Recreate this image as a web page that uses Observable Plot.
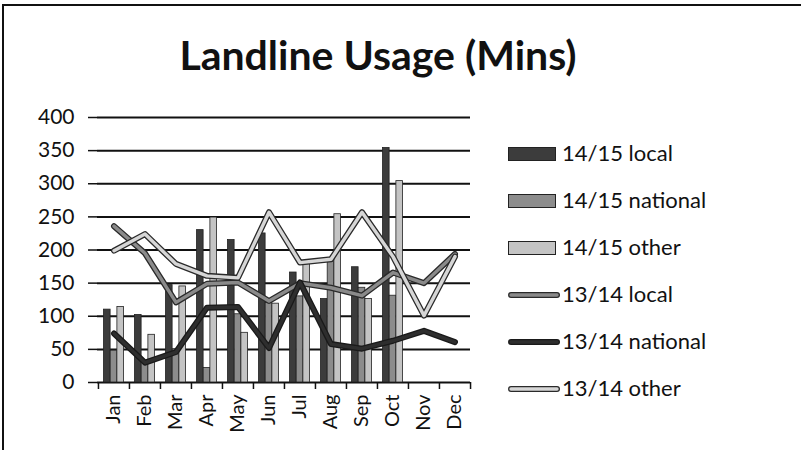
<!DOCTYPE html>
<html>
<head>
<meta charset="utf-8">
<script src="https://cdn.jsdelivr.net/npm/d3@7"></script>
<script src="https://cdn.jsdelivr.net/npm/@observablehq/plot@0.6"></script>
<style>
  html, body { margin: 0; padding: 0; background: #fff; }
  #page { position: relative; width: 801px; height: 450px; overflow: hidden; font-family: Lato, "Open Sans", sans-serif; }
  #border { position: absolute; left: 2px; top: 4px; width: 810px; height: 460px; border-left: 2px solid #111; border-top: 2px solid #111; }
  #title { position: absolute; left: 0; width: 756px; top: 30px; text-align: center; font-weight: bold; font-size: 41px; color: #111; }
  #chart { position: absolute; left: 0; top: 100px; }
  #legend { position: absolute; left: 508px; top: 139px; font-size: 22px; color: #111; }
  .row { height: 47px; display: flex; align-items: flex-start; }
  .row svg { margin-right: 6px; margin-top: 8px; }
</style>
</head>
<body>
<div id="page">
  <div id="border"></div>
  <div id="title">Landline Usage (Mins)</div>
  <div id="chart"></div>
  <div id="legend"></div>
</div>
<script>
const months = ["Jan","Feb","Mar","Apr","May","Jun","Jul","Aug","Sep","Oct","Nov","Dec"];
const yTicks = [0, 50, 100, 150, 200, 250, 300, 350, 400];

// 14/15 bars
const local1415    = [110, 102, 147, 230, 215, 225, 166, 126, 174, 354, null, null];
const national1415 = [ 48,  30,  50,  22, 103, 120, 130, 188, 143, 131, null, null];
const other1415    = [114,  72, 145, 249,  75, 119, 183, 254, 126, 304, null, null];

// 13/14 lines
const local1314    = [236, 195, 121, 149, 151, 123, 150, 143, 131, 166, 150, 194];
const national1314 = [ 74,  30,  46, 113, 114,  52, 151,  58,  51,  63,  78,  61];
const other1314    = [199, 224, 179, 161, 158, 257, 181, 186, 257, 190, 101, 190];

const barSeries = [
  {name: "14/15 local",    values: local1415,    fill: "#3c3c3c"},
  {name: "14/15 national", values: national1415, fill: "#8c8c8c"},
  {name: "14/15 other",    values: other1415,    fill: "#c4c4c4"}
];
const lineSeries = [
  {name: "13/14 local",    values: local1314,    stroke: "#8a8a8a", outline: "#2a2a2a"},
  {name: "13/14 national", values: national1314, stroke: "#2e2e2e", outline: "#1a1a1a"},
  {name: "13/14 other",    values: other1314,    stroke: "#d6d6d6", outline: "#2a2a2a"}
];

const width = 490, marginLeft = 97, marginRight = 20;
const bw = (width - marginLeft - marginRight) / months.length;
const barW = 6.7;
const groupStart = (bw - 3 * barW) / 2;

const marks = [];
// gridlines
marks.push(Plot.ruleY(yTicks, {stroke: "#111", strokeWidth: 2}));
// bars
barSeries.forEach((s, k) => {
  const rows = months.map((m, i) => ({month: m, value: s.values[i]})).filter(d => d.value != null);
  const insetLeft = groupStart + k * barW;
  const insetRight = bw - insetLeft - barW;
  marks.push(Plot.barY(rows, {x: "month", y: "value", fill: s.fill, stroke: "#222", strokeWidth: 0.8, insetLeft, insetRight}));
});
// lines
lineSeries.forEach(s => {
  const rows = months.map((m, i) => ({month: m, value: s.values[i]}));
  marks.push(Plot.line(rows, {x: "month", y: "value", stroke: s.outline, strokeWidth: 6, strokeLinejoin: "round", strokeLinecap: "round"}));
  marks.push(Plot.line(rows, {x: "month", y: "value", stroke: s.stroke, strokeWidth: 3.4, strokeLinejoin: "round", strokeLinecap: "round"}));
});
// axes
marks.push(Plot.axisY({ticks: yTicks, tickSize: 9, tickPadding: 14, fontSize: 21, line: true, stroke: "#111", strokeWidth: 1.5}));
marks.push(Plot.axisX({tickSize: 7, dx: -bw / 2, tickFormat: () => "", stroke: "#111", strokeWidth: 1.5}));
marks.push(Plot.axisX({ticks: ["Dec"], tickSize: 7, dx: bw / 2, tickFormat: () => "", stroke: "#111", strokeWidth: 1.5}));
marks.push(Plot.axisX({tickSize: 0, tickRotate: -90, tickPadding: 12, fontSize: 20}));

const chart = Plot.plot({
  width,
  height: 344,
  marginLeft,
  marginRight,
  marginTop: 17,
  marginBottom: 62,
  style: {fontFamily: "Lato, 'Open Sans', sans-serif", color: "#111", background: "transparent"},
  x: {type: "band", domain: months, padding: 0, label: null},
  y: {domain: [0, 400], label: null},
  marks
});
document.getElementById("chart").appendChild(chart);

// legend
const legend = document.getElementById("legend");
barSeries.forEach(s => {
  const row = document.createElement("div");
  row.className = "row";
  row.innerHTML = `<svg width="48" height="14"><rect x="0.5" y="0.5" width="47" height="13" fill="${s.fill}" stroke="#222"/></svg><span>${s.name}</span>`;
  legend.appendChild(row);
});
lineSeries.forEach(s => {
  const row = document.createElement("div");
  row.className = "row";
  row.innerHTML = `<svg width="52" height="14"><line x1="3" x2="49" y1="7" y2="7" stroke="${s.outline}" stroke-width="6" stroke-linecap="round"/><line x1="3" x2="49" y1="7" y2="7" stroke="${s.stroke}" stroke-width="3.4" stroke-linecap="round"/></svg><span style="margin-left:-4px">${s.name}</span>`;
  legend.appendChild(row);
});
</script>
</body>
</html>
